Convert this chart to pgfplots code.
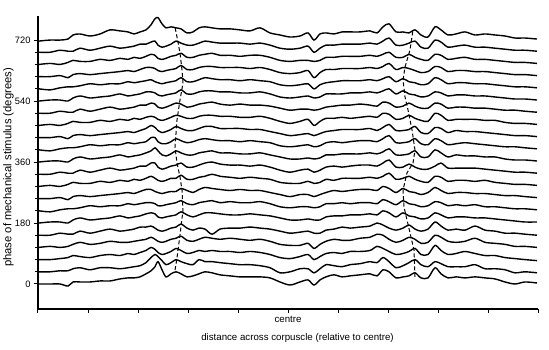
\documentclass[border=0pt]{standalone}
\usepackage{fontspec}
\setmainfont{Liberation Sans}
\usepackage{pgfplots}
\usepackage{pgfplotstable}
\pgfplotsset{compat=1.18}
% rows = traces (deviation from each trace's own baseline, degrees), columns = position
\pgfplotstableread{
x -249 -238 -228 -220 -215 -208 -198 -188 -178 -168 -160 -154 -148 -142 -137 -133 -130 -126 -122 -117 -112 -107 -101 -95 -89 -83 -76 -68 -58 -48 -38 -28 -18 -8 2 12 20 26 32 38 46 54 62 72 82 89 95 101 108 115 121 127 133 140 147 153 160 168 177 187 197 207 217 227 237 249
t0 0 0 0 -6 6 6 6 9 9 15 18 18 21 30 39 51 66 42 21 30 36 30 21 24 30 36 33 27 24 21 21 21 18 6 -3 6 12 -3 12 21 27 21 24 27 30 24 42 36 18 21 24 33 18 18 48 30 18 21 18 21 18 15 6 0 6 3
t1 0 0 3 3 9 12 6 12 12 9 12 15 18 27 42 51 45 33 21 27 36 30 24 21 36 30 30 27 24 21 21 18 12 -3 0 9 9 -3 9 21 18 15 21 24 30 27 42 30 12 18 27 36 21 15 30 24 15 15 15 21 9 9 6 -3 0 -3
t2 0 0 3 6 12 9 6 12 15 12 18 15 21 27 36 30 21 15 18 24 33 27 18 21 27 24 27 24 24 21 24 21 15 6 3 9 15 0 9 18 21 18 24 24 27 39 33 24 15 18 24 33 15 15 42 27 15 18 24 18 12 12 6 3 0 -3
t3 0 3 0 3 9 15 9 12 18 15 15 18 21 24 30 24 18 15 18 24 27 33 21 18 24 30 27 24 27 24 21 24 18 9 6 6 12 -3 9 18 24 21 21 27 30 39 36 24 15 21 30 24 12 15 36 30 18 15 18 27 15 12 9 3 3 0
t4 0 0 6 3 3 12 6 12 18 12 15 18 24 24 27 21 15 12 15 21 24 33 21 15 21 18 3 18 21 21 24 21 18 12 6 9 12 6 6 15 18 24 21 24 27 36 30 21 15 21 30 18 12 18 39 27 15 18 15 27 15 12 6 6 3 0
t5 0 3 3 0 9 15 9 12 15 21 15 18 21 27 30 27 18 15 18 21 24 33 24 18 24 30 30 27 24 24 27 24 21 15 9 9 12 9 9 18 21 21 24 24 27 24 36 30 18 30 21 18 12 15 30 24 15 18 18 15 15 12 9 6 3 3
t6 0 -3 3 6 6 9 15 12 15 15 21 18 21 24 24 21 15 15 18 21 24 30 21 18 24 27 30 24 27 24 24 27 21 12 9 12 12 9 12 21 21 24 21 24 24 21 33 27 18 30 21 18 12 15 27 24 15 18 15 18 12 12 9 6 6 3
t7 0 0 3 -3 6 9 6 9 12 15 18 15 21 27 27 21 18 15 18 21 21 30 24 18 27 33 30 27 24 27 24 24 18 12 6 12 12 6 12 18 24 21 24 27 27 24 36 30 18 30 21 18 12 18 33 24 15 18 18 15 15 12 9 9 6 3
t8 0 3 0 6 12 9 9 15 12 18 15 21 18 24 30 24 18 15 18 24 24 33 21 21 27 30 36 30 27 24 27 24 21 12 9 9 15 9 12 21 18 24 24 24 27 24 30 39 21 24 30 21 15 12 30 27 15 18 18 15 18 12 9 6 6 3
t9 0 0 6 3 3 12 6 12 18 12 15 18 24 24 33 33 21 15 18 24 27 33 21 21 27 33 36 30 27 27 24 27 21 12 6 12 15 6 12 21 24 21 24 27 27 24 33 42 21 21 30 21 15 15 24 33 18 18 18 18 15 12 9 6 6 3
t10 0 3 3 0 9 15 9 12 15 21 15 18 21 27 33 42 33 21 18 24 33 27 21 21 27 30 33 27 27 24 24 27 21 15 9 9 12 9 12 21 21 24 24 24 27 24 30 39 21 21 24 33 15 15 36 27 15 21 18 18 15 15 9 6 6 3
t11 0 -3 3 6 6 9 15 12 15 15 21 18 21 24 36 36 24 18 18 24 33 27 21 24 30 33 30 27 27 24 27 24 21 12 9 12 15 9 12 21 24 21 24 27 27 24 33 42 21 21 24 33 18 15 33 27 15 18 21 18 15 12 9 9 6 3
t12 0 0 3 -3 6 9 6 9 12 15 18 15 21 27 36 30 21 15 18 24 33 27 21 21 27 33 33 27 27 27 24 24 18 12 6 9 12 6 12 18 21 24 24 24 27 21 30 39 21 21 24 33 15 12 30 27 15 21 18 18 15 12 9 6 6 3
t13 0 3 0 6 12 9 9 15 12 18 15 21 18 24 27 24 18 15 18 24 30 27 21 21 27 30 30 27 27 24 24 27 21 12 6 12 18 0 12 21 21 24 21 24 27 24 36 33 18 21 30 21 15 12 36 30 15 18 18 18 15 15 9 6 6 3
t14 0 0 6 3 3 12 6 12 18 12 15 18 24 24 30 27 18 15 18 24 30 27 18 21 27 30 33 27 24 27 24 24 21 15 9 12 12 9 12 18 21 24 24 27 24 21 33 30 18 21 30 21 15 15 30 27 15 18 18 15 15 12 9 9 6 3
t15 0 3 3 0 9 15 9 12 15 21 15 18 21 27 27 24 18 15 18 21 24 33 21 21 27 30 30 27 27 24 24 27 21 12 9 12 15 9 12 21 21 21 24 24 27 24 30 36 21 30 21 18 12 15 27 24 15 18 18 15 15 12 9 6 6 3
t16 0 -3 3 6 6 9 15 12 15 15 21 18 21 24 27 21 18 15 18 21 24 33 21 21 27 33 30 27 27 24 27 24 21 12 9 12 15 0 12 18 21 24 24 24 27 24 30 36 21 30 21 18 12 15 33 27 15 18 18 15 15 12 9 6 6 3
t17 0 0 3 -3 6 9 6 9 12 15 18 15 21 27 27 24 18 15 18 21 24 33 21 21 27 30 30 27 27 27 24 27 21 12 9 12 18 -3 12 21 21 24 24 24 27 24 30 39 21 27 24 18 12 15 30 27 15 18 18 15 15 12 9 6 6 3
t18 0 3 0 6 12 9 9 15 12 18 15 21 18 24 30 27 18 15 18 24 27 33 21 21 27 30 33 27 27 24 27 27 21 12 9 12 12 9 12 21 21 24 24 24 27 24 30 36 21 21 30 21 15 12 30 27 15 18 21 15 15 12 9 6 6 3
t19 0 0 6 3 3 12 6 12 18 12 15 18 24 24 30 33 21 15 18 24 33 27 21 21 27 33 30 27 27 27 24 27 21 12 9 12 18 0 12 21 21 24 24 24 27 24 33 42 21 21 27 33 15 12 36 30 15 18 21 15 15 12 9 6 6 3
t20 -3 0 0 3 15 18 12 18 30 27 24 18 24 30 45 63 66 48 36 39 36 33 21 24 36 39 36 33 33 30 27 36 21 15 9 12 21 0 18 21 18 24 24 24 27 21 39 48 24 24 21 30 15 9 39 30 15 18 24 15 18 15 12 6 6 3
}\raw
\pgfplotstabletranspose[colnames from=x]{\data}{\raw}

\begin{document}
\begin{tikzpicture}
\path[use as bounding box] (-38pt,-40pt) rectangle (511pt,309pt);
\begin{axis}[
  at={(0pt,0pt)}, anchor=south west,
  scale only axis, width=500pt, height=293pt,
  xmin=-250, xmax=250, ymin=-73.8, ymax=791,
  axis lines=left,
  axis line style={-, line width=1.6pt},
  tick align=outside,
  xtick={-250,-200,...,250},
  xticklabels={,,,,,centre,,,,,},
  ytick={0,180,360,540,720},
  minor ytick={0,36,...,720},
  major tick length=4pt, minor tick length=3pt,
  tick style={black, line width=1pt},
  /pgf/number format/assume math mode=true,
  yticklabel style={font=\fontsize{9.3}{11}\selectfont},
  xticklabel style={font=\fontsize{9.7}{11}\selectfont},
  ylabel={phase of mechanical stimulus (degrees)},
  xlabel={distance across corpuscle (relative to centre)},
  ylabel style={font=\fontsize{11.25}{13}\selectfont, at={(axis description cs:-0.059,0.483)}, anchor=center},
  xlabel style={font=\fontsize{9.7}{11}\selectfont, at={(axis description cs:0.519,-0.1058)}, anchor=base},
  clip=false,
]
\pgfplotsinvokeforeach{0,...,20}{
  \addplot[black, line width=1.4pt, smooth, tension=0.5] table[x=colnames, y expr=\thisrow{t#1}+36*#1] {\data};
}
\addplot[black, line width=1pt, dash pattern=on 4pt off 2.5pt] coordinates {(-113,41) (-111,77) (-108,145) (-105,218) (-106,277) (-108,316) (-111,357) (-113,404) (-111,484) (-108,543) (-105,593) (-106,632) (-108,682) (-111,729) (-113,758)};
\addplot[black, line width=1pt, dash pattern=on 4pt off 2.5pt] coordinates {(127,21) (126,100) (122,151) (119,189) (116,227) (115,277) (119,328) (125,357) (127,395) (124,455) (120,514) (117,552) (115,602) (117,640) (122,691) (125,750)};
\end{axis}
\end{tikzpicture}
\end{document}
